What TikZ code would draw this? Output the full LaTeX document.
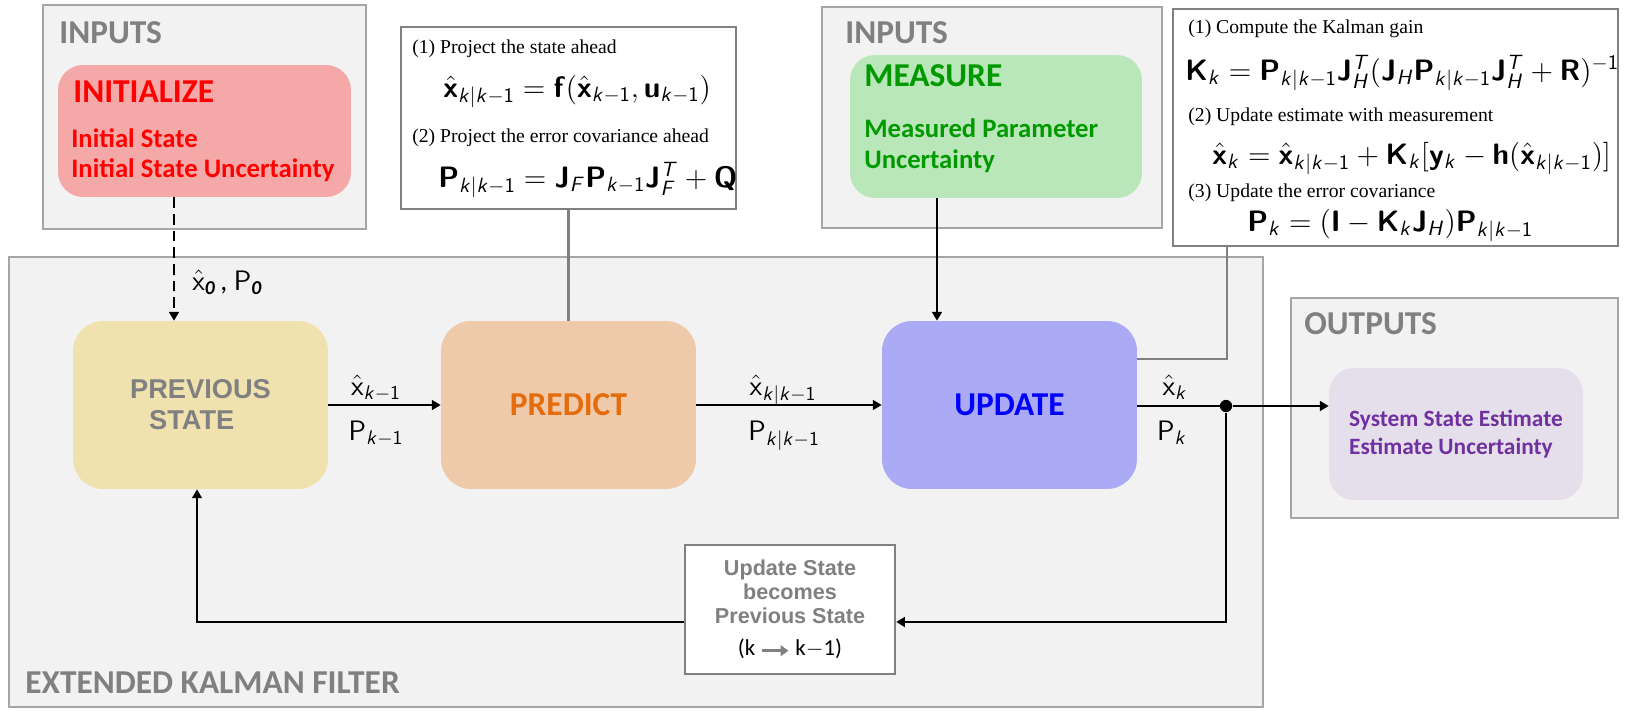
\RequirePackage{fix-cm}
\documentclass[tikz,border=0pt]{standalone}
\usepackage{amsmath}
\usepackage[no-math]{fontspec}
\setmainfont{Carlito}
\newfontfamily\arialfont{Liberation Sans}
\newfontfamily\timesfont{Liberation Serif}
\usetikzlibrary{arrows.meta}
\DeclareMathAlphabet{\mathsfb}{OT1}{cmss}{bx}{n}
\DeclareMathAlphabet{\mathsfr}{OT1}{cmss}{m}{n}
\DeclareMathAlphabet{\mathsfi}{OT1}{cmss}{m}{sl}
\newcommand{\xhat}{\hat{\mathsfb{x}}}
\newcommand{\subkk}{\mathsfi{k}|\mathsfi{k}-\mathsfr{1}}
\newcommand{\subkm}{\mathsfi{k}-\mathsfr{1}}
\definecolor{panelfill}{HTML}{F2F2F2}
\definecolor{panelline}{HTML}{A6A6A6}
\definecolor{headgray}{HTML}{808080}
\definecolor{initfill}{HTML}{F5A8A8}
\definecolor{measfill}{HTML}{B9E7B9}
\definecolor{measgreen}{HTML}{009900}
\definecolor{prevfill}{HTML}{F0E2AE}
\definecolor{predfill}{HTML}{EEC9AA}
\definecolor{predorange}{HTML}{E46C0A}
\definecolor{updfill}{HTML}{AAAAF5}
\definecolor{outfill}{HTML}{E5DFEC}
\definecolor{outpurple}{HTML}{7030A0}
\definecolor{boxline}{HTML}{808080}

\begin{document}
\begin{tikzpicture}[x=0.02cm, y=-0.02cm, >={Triangle[length=5pt,width=5.5pt]},
  panel/.style={draw=panelline, fill=panelfill, line width=1.6pt},
  stage/.style={rounded corners=0.6cm, minimum width=5.1cm, minimum height=3.36cm, inner sep=0pt},
  inbox/.style={rounded corners=0.5cm, inner sep=0pt},
  eqbox/.style={draw=boxline, fill=white, line width=1.1pt, inner sep=0pt},
  head/.style={anchor=base west, inner sep=0pt, text=headgray, font=\fontsize{19}{21}\selectfont\bfseries},
  item/.style={anchor=base west, inner sep=0pt, font=\fontsize{15.2}{17}\selectfont\bfseries},
  note/.style={anchor=base west, inner sep=0pt, font=\timesfont\fontsize{11.2}{13}\selectfont},
  eq/.style={anchor=base west, inner sep=0pt, font=\fontsize{16.8}{19}\selectfont},
  lab/.style={anchor=base, inner sep=0pt, font=\fontsize{16}{18}\selectfont},
  flow/.style={->, line width=1.6pt},
  conn/.style={draw=boxline, line width=1.5pt}]
  \useasboundingbox (0,0) rectangle (1626,718);
  \draw[panel] (9,257) rectangle (1263,707);
  \draw[panel] (43,5) rectangle (366,229);
  \draw[panel] (822,7) rectangle (1162,228);
  \draw[panel] (1291,298) rectangle (1618,518);
  \node[head] (ekfT) at (25,693) {EXTENDED KALMAN FILTER};
  \node[head] (in1T) at (59,43) {INPUTS};
  \node[head] (in2T) at (845,43) {INPUTS};
  \node[head] (outT) at (1304,334) {OUTPUTS};
	\node[inbox, fill=initfill, minimum width=5.86cm, minimum height=2.64cm] (init) at (204.5,131) {};
	\node[head, text=red] (initT) at (73,102) {INITIALIZE};
	\node[item, text=red] (initA) at (71,147) {Initial State};
	\node[item, text=red] (initB) at (71,177) {Initial State Uncertainty};
	\node[inbox, fill=measfill, minimum width=5.84cm, minimum height=2.86cm] (meas) at (996,126.5) {};
	\node[head, text=measgreen] (measT) at (864,86) {MEASURE};
	\node[item, text=measgreen] (measA) at (864,137) {Measured Parameter};
	\node[item, text=measgreen] (measB) at (864,168) {Uncertainty};
	\node[stage, fill=prevfill, text=headgray, align=center, font=\arialfont\bfseries\fontsize{15.5}{17.6}\selectfont] (prev) at (200.5,405) {PREVIOUS\\STATE\kern 10pt};
	\node[stage, fill=predfill, text=predorange, font=\fontsize{19}{21}\selectfont\bfseries] (pred) at (568.5,405) {PREDICT};
	\node[stage, fill=updfill, text=blue, font=\fontsize{19}{21}\selectfont\bfseries] (upd) at (1009.5,405) {UPDATE};
	\node[inbox, fill=outfill, text=outpurple, align=left, minimum width=5.08cm, minimum height=2.64cm, font=\fontsize{13.3}{15.9}\selectfont\bfseries] (outbox) at (1456,434) {System State Estimate\\Estimate Uncertainty};
	\node[draw=boxline, fill=white, line width=1.3pt, minimum width=4.2cm, minimum height=2.58cm, align=center, text=headgray, font=\arialfont\bfseries\fontsize{12.3}{13.6}\selectfont] (fb) at (790,609.5) {Update State\\becomes\\Previous State\\[5pt]{\rmfamily\mdseries\color{black}\fontsize{13}{15}\selectfont(k \tikz[baseline=-3pt]\draw[-{Triangle[length=4.5pt,width=6pt]}, line width=2pt, headgray] (0pt,0pt) -- (15pt,0pt); k$-$1)}};
	\node[eqbox, minimum width=6.7cm, minimum height=3.64cm] (predeq) at (568.5,118) {};
	\node[note] (pn1) at (412,53) {(1) Project the state ahead};
	\node[eq] (pe1) at (443,97) {$\xhat_{\subkk} = \mathsfb{f}(\xhat_{\subkm}, \mathsfb{u}_{\subkm})$};
	\node[note] (pn2) at (412,142) {(2) Project the error covariance ahead};
	\node[eq] (pe2) at (438,187) {$\mathsfb{P}_{\subkk} = \mathsfb{J}_{\mathsfi{F}}\mathsfb{P}_{\subkm}\mathsfb{J}_{\mathsfi{F}}^{\mathsfi{T}} + \mathsfb{Q}$};
	\node[eqbox, minimum width=8.9cm, minimum height=4.74cm] (updeq) at (1395.5,127.5) {};
	\node[note] (un1) at (1188,33) {(1) Compute the Kalman gain};
	\node[eq] (ue1) at (1185,80) {$\mathsfb{K}_{\mathsfi{k}} = \mathsfb{P}_{\subkk}\mathsfb{J}_{\mathsfi{H}}^{\mathsfi{T}}(\mathsfb{J}_{\mathsfi{H}}\mathsfb{P}_{\subkk}\mathsfb{J}_{\mathsfi{H}}^{\mathsfi{T}} + \mathsfb{R})^{-\mathsfr{1}}$};
	\node[note] (un2) at (1188,121) {(2) Update estimate with measurement};
	\node[eq] (ue2) at (1212,164) {$\xhat_{\mathsfi{k}} = \xhat_{\subkk} + \mathsfb{K}_{\mathsfi{k}}[\mathsfb{y}_{\mathsfi{k}} - \mathsfb{h}(\xhat_{\subkk})]$};
	\node[note] (un3) at (1188,197) {(3) Update the error covariance};
	\node[eq] (ue3) at (1247,231) {$\mathsfb{P}_{\mathsfi{k}} = (\mathsfb{I} - \mathsfb{K}_{\mathsfi{k}}\mathsfb{J}_{\mathsfi{H}})\mathsfb{P}_{\subkk}$};
	\node[lab, anchor=base west] (x0) at (192,290) {$\hat{\mathsfr{x}}_{\text{\bfseries\itshape 0}}$\,,\ $\mathsfr{P}_{\text{\bfseries\itshape 0}}$};
	\node[lab] (xa) at (376,395) {$\hat{\mathsfr{x}}_{\subkm}$};
	\node[lab] (pa) at (376,440) {$\mathsfr{P}_{\subkm}$};
	\node[lab] (xb) at (783,395) {$\hat{\mathsfr{x}}_{\subkk}$};
	\node[lab] (pb) at (784,440) {$\mathsfr{P}_{\subkk}$};
	\node[lab] (xc) at (1175,395) {$\hat{\mathsfr{x}}_{\mathsfi{k}}$};
	\node[lab] (pc) at (1172,440) {$\mathsfr{P}_{\mathsfi{k}}$};
	\node[circle, fill=black, inner sep=0pt, minimum size=7pt] (junc) at (1226,406) {};
	\coordinate (itap) at (174,0);
	\coordinate (mtap) at (937,0);
	\coordinate (utap) at (1227,359);
	\coordinate (loop) at (197,622);
	\draw[conn] (pred.north) -- (predeq.south);
	\draw[conn] (upd.east |- utap) -| (updeq.south -| utap);
	\draw[flow, dash pattern=on 6pt off 3.5pt] (init.south -| itap) -- (prev.north -| itap);
	\draw[flow] (meas.south -| mtap) -- (upd.north -| mtap);
	\draw[flow] (prev) -- (pred);
	\draw[flow] (pred) -- (upd);
	\draw[line width=1.6pt] (upd.east |- junc) -- (junc);
	\draw[flow] (junc) -- (junc -| outbox.west);
	\draw[flow] (junc) |- (fb.east |- loop);
	\draw[flow] (fb.west |- loop) -| (prev.south -| loop);
\end{tikzpicture}
\end{document}
